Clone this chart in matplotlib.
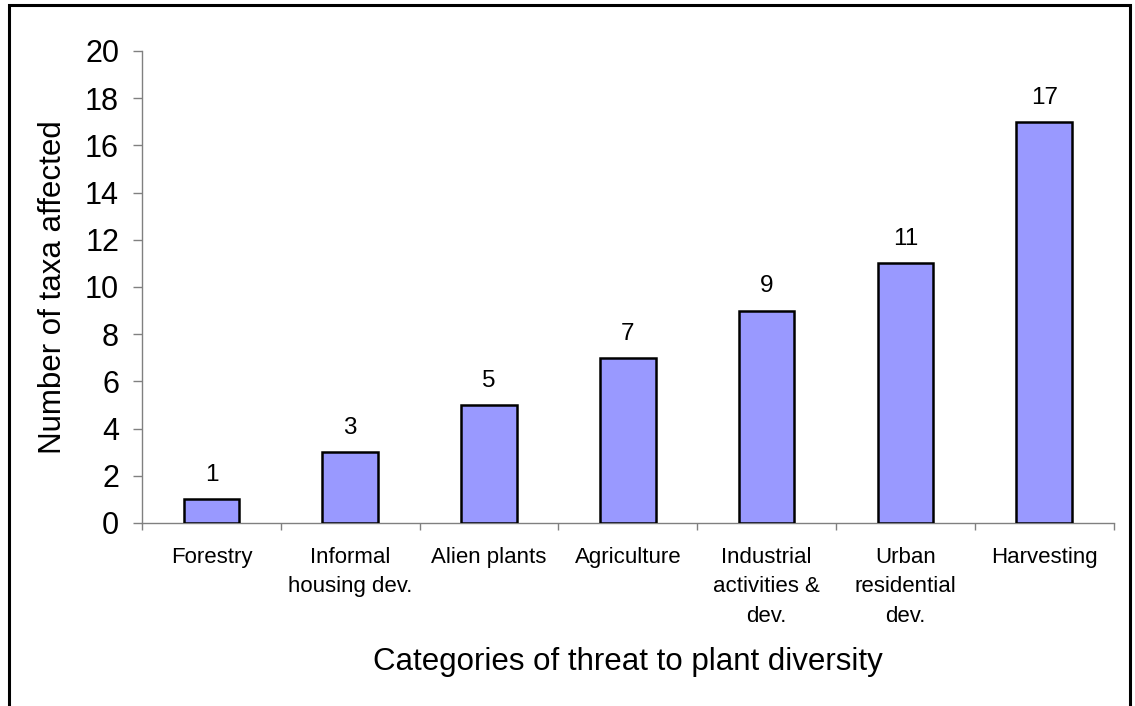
import matplotlib
matplotlib.use("Agg")
import matplotlib.pyplot as plt
from matplotlib.patches import Rectangle
import numpy as np

categories = ["Forestry", "Informal\nhousing dev.", "Alien plants", "Agriculture",
              "Industrial\nactivities &\ndev.", "Urban\nresidential\ndev.", "Harvesting"]
values = [1, 3, 5, 7, 9, 11, 17]
y_ticks = [0, 2, 4, 6, 8, 10, 12, 14, 16, 18, 20]

plt.rcParams['font.family'] = ['Liberation Sans', 'DejaVu Sans']

W, H = 1135, 706
fig = plt.figure(figsize=(W / 100, H / 100), dpi=100)
ax = fig.add_axes([142 / W, 1 - 523 / H, (1113.6 - 142) / W, (523 - 51) / H])

x = np.arange(len(categories))
bars = ax.bar(x, values, width=0.4, color="#9999FF", edgecolor="black", linewidth=1.8, zorder=3)

for xi, v in zip(x, values):
    ax.annotate(str(v), (xi, v), xytext=(0, 9.5), textcoords="offset points",
                ha="center", va="bottom", fontsize=17.5)

ax.set_xlim(-0.5, len(categories) - 0.5)
ax.set_ylim(0, 20)
ax.set_yticks(y_ticks)
ax.set_xticks(x)
ax.set_xticklabels(categories, fontsize=16, linespacing=1.55, va="top")
ax.set_xticks(np.arange(-0.5, len(categories)), minor=True)

grey = "#808080"
for s in ["top", "right"]:
    ax.spines[s].set_visible(False)
for s in ["left", "bottom"]:
    ax.spines[s].set_color(grey)
    ax.spines[s].set_linewidth(1.0)

ax.tick_params(axis="y", which="major", length=6.5, width=1.0, color=grey,
               direction="out", pad=10, labelsize=22)
ax.tick_params(axis="x", which="major", length=0, pad=17)
ax.tick_params(axis="x", which="minor", length=5, width=1.0, color=grey, direction="out")

ax.set_ylabel("Number of taxa affected", fontsize=22.5, labelpad=12)
ax.set_xlabel("Categories of threat to plant diversity", fontsize=22.5, labelpad=14)

# outer border (bottom edge cut off)
fig.patches.append(Rectangle((8.5 / W, -0.05), (1130 - 8.5) / W, 1.05 - 5.5 / H,
                             transform=fig.transFigure, fill=False,
                             edgecolor="black", linewidth=2.2, zorder=10))

fig.savefig("out.png", dpi=100)
